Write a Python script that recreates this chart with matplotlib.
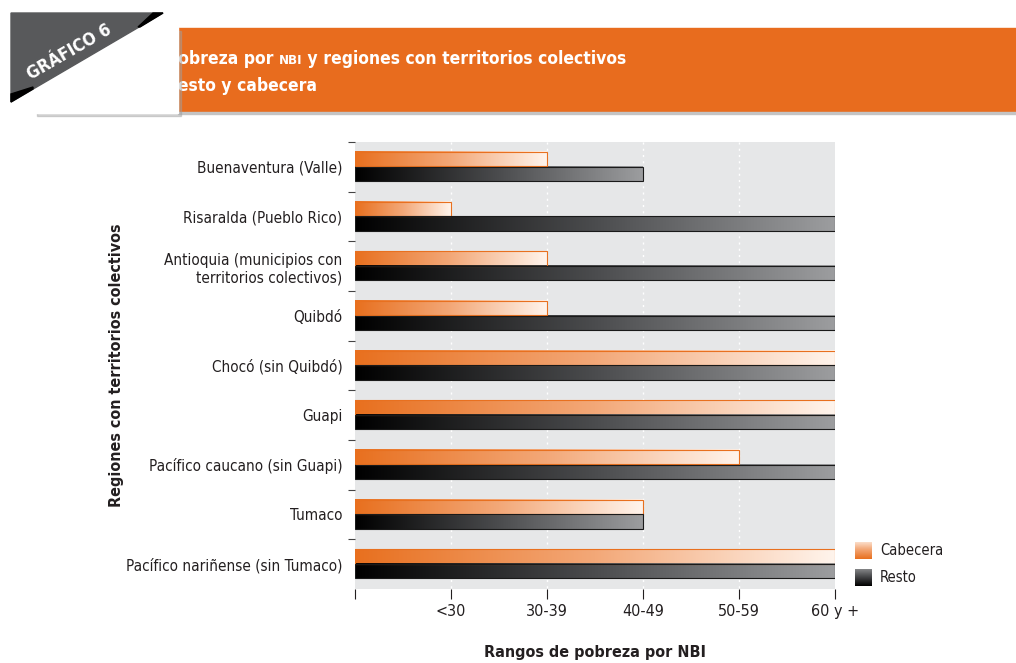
import numpy as np
import matplotlib
matplotlib.use('Agg')
import matplotlib.pyplot as plt
from matplotlib.colors import LinearSegmentedColormap
from matplotlib.patches import Rectangle, Polygon

plt.rcParams['font.family'] = ['DejaVu Sans']
plt.rcParams['font.stretch'] = 'condensed'

# data
regions = ['Buenaventura (Valle)', 'Risaralda (Pueblo Rico)',
           'Antioquia (municipios con\nterritorios colectivos)', 'Quibdó',
           'Chocó (sin Quibdó)', 'Guapi', 'Pacífico caucano (sin Guapi)',
           'Tumaco', 'Pacífico nariñense (sin Tumaco)']
# rank of the NBI range: 1 = <30, 2 = 30-39, 3 = 40-49, 4 = 50-59, 5 = 60 y +
cabecera = [2, 1, 2, 2, 5, 5, 4, 3, 5]
resto = [3, 5, 5, 5, 5, 5, 5, 3, 5]
range_labels = ['', '<30', '30-39', '40-49', '50-59', '60 y +']

ORANGE = '#E8701F'
TXT = '#231F20'
cmap_cab = LinearSegmentedColormap.from_list('cab', [ORANGE, '#F3A878', '#FFF4EC'])
cmap_res = LinearSegmentedColormap.from_list('res', ['#000000', '#4B4C4E', '#9C9D9F'])

fig = plt.figure(figsize=(10.16, 6.63), dpi=100)

# header drawn on a pixel-sized background axes
bg = fig.add_axes([0, 0, 1, 1])
bg.set_xlim(0, 1016)
bg.set_ylim(663, 0)
bg.axis('off')
bg.set_zorder(0)

bg.add_patch(Rectangle((178, 28), 838, 84, color='#E86C1E', zorder=1))
bg.add_patch(Rectangle((178, 112), 838, 2, color='#C4C4C4', zorder=1))

renderer = fig.canvas.get_renderer()


def text_run(x, y, pieces):
    # pieces: list of (string, fontsize); placed left to right
    for s, size in pieces:
        t = bg.text(x, y, s, color='white', fontsize=size, fontweight='bold',
                    va='baseline', ha='left', zorder=2)
        x += t.get_window_extent(renderer).width


def hidden_width(s, size):
    t = bg.text(0, 0, s, fontsize=size, fontweight='bold')
    w = t.get_window_extent(renderer).width
    t.remove()
    return w


tsize = 12.5
text_run(178 - hidden_width('p', tsize), 64,
         [('pobreza por ', tsize), ('NBI', 9.5),
          (' y regiones con territorios colectivos', tsize)])
text_run(178 - hidden_width('r', tsize), 91, [('resto y cabecera', tsize)])

# white card with shadow, folded gray corner
bg.add_patch(Rectangle((37, 31), 144, 85, color='#A0A0A0', alpha=0.45, zorder=3))
bg.add_patch(Rectangle((33, 27), 145, 86, color='white', zorder=4))
bg.add_patch(Polygon([(11, 13), (163, 13), (11, 102)], closed=True,
                     color='#58595B', zorder=5))
bg.add_patch(Polygon([(153, 13), (163, 13), (140, 27), (138, 27)], closed=True,
                     color='black', zorder=5))
bg.add_patch(Polygon([(11, 94), (33, 87), (33, 89), (11, 102)], closed=True,
                     color='black', zorder=5))
bg.text(69, 52, 'GRÁFICO 6', color='white', fontsize=12.5, fontweight='bold',
        rotation=30, ha='center', va='center', zorder=6)

# main chart
ax = fig.add_axes([355 / 1016, 1 - 589 / 663, 480 / 1016, 447 / 663])
ax.set_zorder(2)
ax.set_facecolor('#E6E7E8')
for s in ax.spines.values():
    s.set_visible(False)


def grad_bar(y, w, h, cmap, edge):
    grad = np.linspace(0, 1, 256).reshape(1, -1)
    ax.imshow(grad, cmap=cmap, aspect='auto', interpolation='bicubic',
              extent=(0, w, y + h / 2, y - h / 2), zorder=2)
    ax.add_patch(Rectangle((0, y - h / 2), w, h, fill=False, edgecolor=edge,
                           lw=0.8, zorder=3))


for i in range(len(regions)):
    grad_bar(i - 0.155, cabecera[i], 0.285, cmap_cab, ORANGE)
    grad_bar(i + 0.14, resto[i], 0.29, cmap_res, '#1A1A1A')

ax.set_xlim(0, 5)
ax.set_ylim(len(regions) - 0.5, -0.5)
ax.vlines(range(1, 5), -0.5, len(regions) - 0.5, colors='white',
          linestyles=(0, (1.5, 3)), lw=1, zorder=1)

ax.set_xticks(range(len(range_labels)))
ax.set_xticklabels(range_labels, fontsize=11.5, color=TXT)
ax.tick_params(axis='x', direction='out', length=7.5, width=0.8, pad=3,
               color='#231F20')
ax.set_yticks(range(len(regions)))
ax.set_yticklabels(regions, fontsize=11, color=TXT, ha='right')
ax.tick_params(axis='y', which='major', length=0, pad=9)
ax.set_yticks(np.arange(len(regions)) - 0.5, minor=True)
ax.tick_params(axis='y', which='minor', length=5, width=0.8, color='#444444')

fig.text(117 / 1016, 1 - 365 / 663, 'Regiones con territorios colectivos',
         rotation=90, ha='center', va='center', fontsize=11.5,
         fontweight='bold', color=TXT)
fig.text(595 / 1016, 1 - 652 / 663, 'Rangos de pobreza por NBI',
         ha='center', va='center', fontsize=11.5, fontweight='bold', color=TXT)

# legend swatches
legend_items = [('Cabecera', cmap_cab, 542), ('Resto', cmap_res, 569)]
for name, cmap, top in legend_items:
    sw = fig.add_axes([855 / 1016, 1 - (top + 17) / 663, 17 / 1016, 17 / 663])
    sw.imshow(np.linspace(0.85, 0, 64).reshape(-1, 1), cmap=cmap,
              aspect='auto', vmin=0, vmax=1)
    sw.axis('off')
    fig.text(880 / 1016, 1 - (top + 8.5) / 663, name, ha='left', va='center',
             fontsize=10.5, color=TXT)

fig.savefig('out.png', dpi=100)
